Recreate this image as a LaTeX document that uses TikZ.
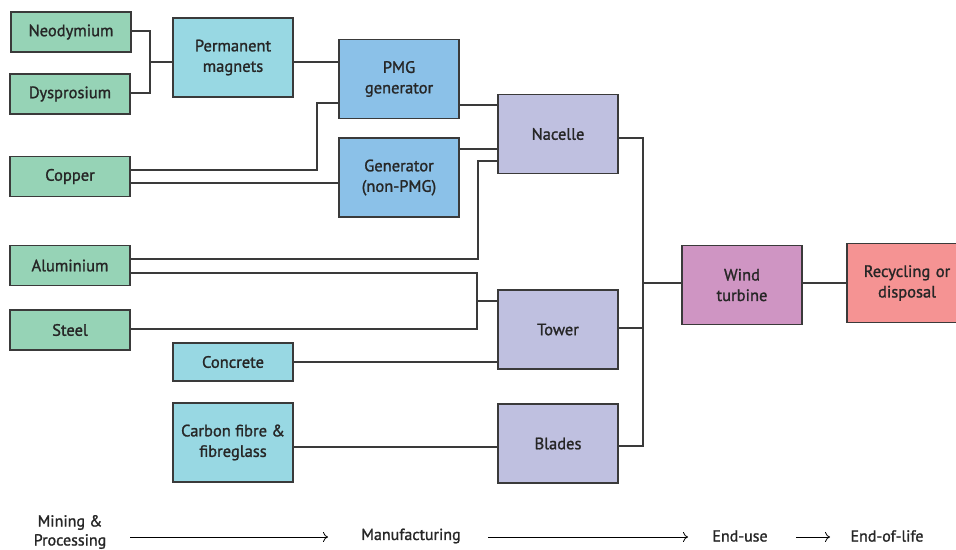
\documentclass[tikz,border=0pt]{standalone}
\usepackage{fontspec}
\setmainfont{PT Sans}[FakeBold=1.3]
\usetikzlibrary{arrows.meta}
\definecolor{cmin}{HTML}{96D3B6}
\definecolor{cproc}{HTML}{98D8E3}
\definecolor{cgen}{HTML}{8BC1E8}
\definecolor{ccomp}{HTML}{BFC0E0}
\definecolor{cwind}{HTML}{CF95C3}
\definecolor{crec}{HTML}{F59393}
\definecolor{cline}{HTML}{3A3A3A}
\definecolor{ctext}{HTML}{262626}
\begin{document}
\begin{tikzpicture}[x=1pt,y=-1pt,
  every node/.style={font=\fontsize{16.5}{20.5}\selectfont, text=ctext},
  box/.style={draw=cline, line width=1.1pt, align=center, inner sep=0pt},
  sbox/.style={box, minimum width=120pt, minimum height=40pt},
  bbox/.style={box, minimum width=120pt, minimum height=79pt},
  conn/.style={draw=cline, line width=1.1pt},
  stage/.style={font=\fontsize{16}{19}\selectfont},
  flow/.style={draw=black, line width=0.8pt, -{To[length=5pt,width=10pt]}}]
\useasboundingbox (0,0) rectangle (956,549);
% raw materials
\node[sbox, fill=cmin] (neo) at (71,32) {Neodymium};
\node[sbox, fill=cmin] (dys) at (70,94) {Dysprosium};
\node[sbox, fill=cmin] (cop) at (70,176.5) {Copper};
\node[sbox, fill=cmin] (alu) at (70,265.5) {Aluminium};
\node[sbox, fill=cmin] (stl) at (70,330) {Steel};
% processed
\node[bbox, fill=cproc] (pm) at (233,57.5) {Permanent\\magnets};
\node[sbox, minimum height=38pt, fill=cproc] (con) at (233,362) {Concrete};
\node[bbox, fill=cproc] (cf) at (233,442.5) {Carbon fibre \&\\fibreglass};
% generators
\node[bbox, fill=cgen] (pmg) at (399,79) {PMG\\generator};
\node[bbox, fill=cgen] (gen) at (399,177.5) {Generator\\(non-PMG)};
% components
\node[bbox, fill=ccomp] (nac) at (558,134) {Nacelle};
\node[bbox, fill=ccomp] (tow) at (558,329.5) {Tower};
\node[bbox, fill=ccomp] (bla) at (558,443.5) {Blades};
% end
\node[bbox, fill=cwind] (wt) at (742,285) {Wind\\turbine};
\node[bbox, fill=crec, text width=120pt] (rec) at (907,283) {Recycling or\\disposal};
% connectors
\coordinate (j1) at (150,62);
\draw[conn] (neo.east |- 0,31) -| (j1);
\draw[conn] (dys.east |- 0,93) -| (j1);
\draw[conn] (j1) -- (pm.west |- j1);
\draw[conn] (pm.east |- 0,62) -- (pmg.west |- 0,62);
\draw[conn] (pmg.east |- 0,105) -- (nac.west |- 0,105);
\draw[conn] (cop.east |- 0,170) -| (317,103) -- (pmg.west |- 0,103);
\draw[conn] (cop.east |- 0,183) -- (gen.west |- 0,183);
\draw[conn] (gen.east |- 0,149) -- (nac.west |- 0,149);
\draw[conn] (alu.east |- 0,259) -| (478,161) -- (nac.west |- 0,161);
\coordinate (j2) at (477,301);
\draw[conn] (alu.east |- 0,273) -| (j2);
\draw[conn] (stl.east |- 0,329) -| (j2);
\draw[conn] (j2) -- (tow.west |- j2);
\draw[conn] (con.east |- 0,362) -- (tow.west |- 0,362);
\draw[conn] (cf.east |- 0,447) -- (bla.west |- 0,447);
\coordinate (j3) at (643,283);
\draw[conn] (nac.east |- 0,138) -| (j3);
\draw[conn] (tow.east |- 0,328) -| (j3);
\draw[conn] (bla.east |- 0,446) -| (j3);
\draw[conn] (j3) -- (wt.west |- j3);
\draw[conn] (wt.east |- 0,283) -- (rec.west |- 0,283);
% stages
\node[align=center, stage] (s1) at (70,532) {Mining \&\\Processing};
\node[stage] (s2) at (411,536) {Manufacturing};
\node[stage] (s3) at (740,536) {End-use};
\node[stage] (s4) at (887,536) {End-of-life};
\draw[flow] (130,537) -- (328,537);
\draw[flow] (488,537) -- (688,537);
\draw[flow] (796,537) -- (830,537);
\end{tikzpicture}
\end{document}
